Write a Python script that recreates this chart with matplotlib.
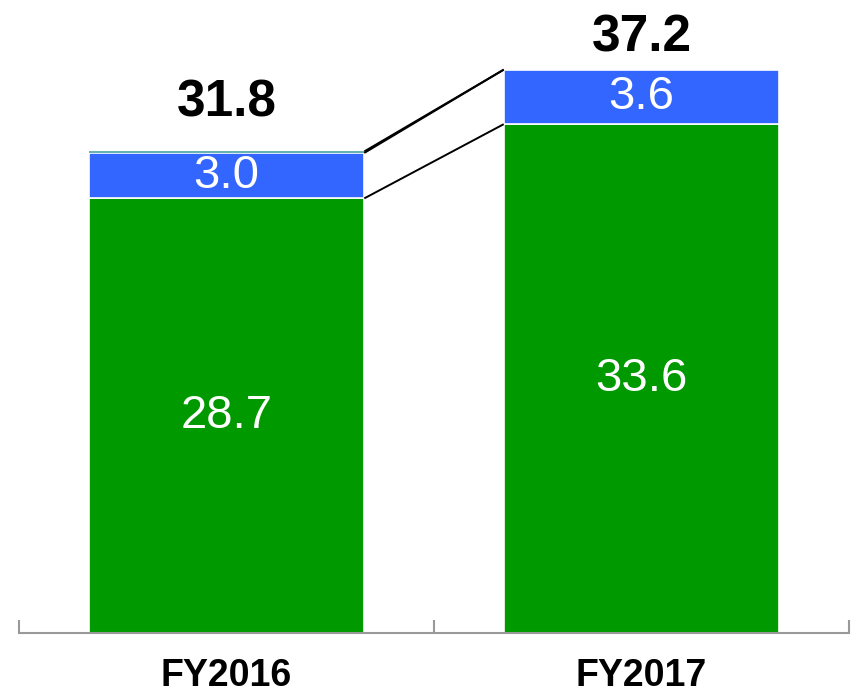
import matplotlib
matplotlib.use("Agg")
import matplotlib.pyplot as plt
import numpy as np

plt.rcParams['font.family'] = ['Liberation Sans', 'DejaVu Sans']

categories = ["FY2016", "FY2017"]
green_vals = [28.7, 33.6]
blue_vals = [3.0, 3.6]
teal_vals = [0.1, 0.0]
totals = [31.8, 37.2]

green_c = "#009900"
blue_c = "#3366FF"
teal_c = "#66B3B3"

fig = plt.figure(figsize=(8.51, 6.95), dpi=100)
ax = fig.add_axes([19/851, 62/695, 830/851, 633/695])

x = np.arange(len(categories))
w = 0.664
g = np.array(green_vals)
b = np.array(blue_vals)
t = np.array(teal_vals)

ax.bar(x, g, w, color=green_c, edgecolor="white", linewidth=1.2, zorder=2)
ax.bar(x, b, w, bottom=g, color=blue_c, edgecolor="white", linewidth=1.2, zorder=2)
ax.bar(x, t, w, bottom=g + b, color=teal_c, edgecolor="none", linewidth=0, zorder=2)

# connector lines
levels = [g, g + b, g + b + t]
for lv in levels:
    ax.plot([x[0] + w/2, x[1] - w/2], [lv[0], lv[1]], color="black", lw=1.4, zorder=3,
            solid_capstyle="butt")

# segment labels
for i in range(len(x)):
    ax.text(x[i], g[i] / 2, f"{green_vals[i]:.1f}", ha="center", va="center",
            color="white", fontsize=34, zorder=4)
    ax.text(x[i], g[i] + b[i] / 2, f"{blue_vals[i]:.1f}", ha="center", va="center",
            color="white", fontsize=34, zorder=4)

# total labels (baseline offsets in points above bar top)
offsets_pt = [24.8, 13.0]
for i in range(len(x)):
    ax.annotate(f"{totals[i]:.1f}", xy=(x[i], totals[i]), xytext=(0, offsets_pt[i]),
                textcoords="offset points", ha="center", va="baseline",
                fontsize=37, fontweight="bold", color="black")

# category labels
for i in range(len(x)):
    ax.annotate(categories[i], xy=(x[i], 0), xytext=(0, -38.5),
                textcoords="offset points", ha="center", va="baseline",
                fontsize=27, fontweight="bold", color="black", annotation_clip=False)

ax.set_xlim(-0.5, 1.5)
ax.set_ylim(0, 41.8)

for s in ["left", "right", "top"]:
    ax.spines[s].set_visible(False)
ax.spines["bottom"].set_color("#999999")
ax.spines["bottom"].set_linewidth(1.5)
ax.set_yticks([])

ax.set_xticks([-0.5, 0.5, 1.5])
ax.set_xticklabels([])
ax.tick_params(axis="x", which="major", direction="in", length=9.4, width=1.5, color="#999999")

fig.savefig("out.png", dpi=100)
